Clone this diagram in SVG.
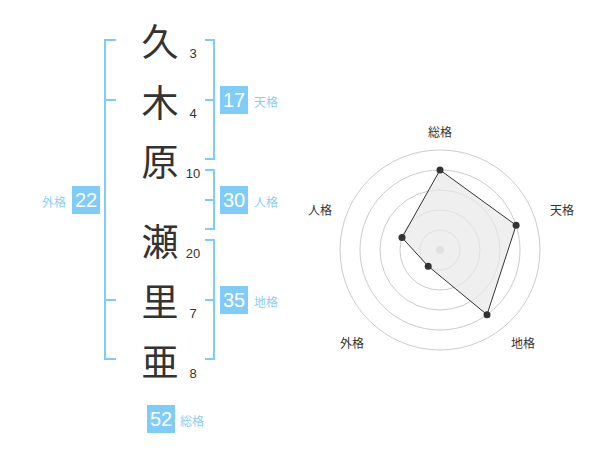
<svg xmlns="http://www.w3.org/2000/svg" width="600" height="470" viewBox="0 0 600 470">
<style>
.k{font-family:"Noto Sans CJK JP","Noto Sans",sans-serif;font-size:37px;fill:#333;text-anchor:middle;dominant-baseline:central}
.n{font-family:"Liberation Sans",Arial,sans-serif;font-size:13px;fill:#333;text-anchor:middle;dominant-baseline:central}
.br{fill:none;stroke:#80ccf8;stroke-width:2}
.bx{fill:#80ccf8}
.bt{font-family:"Liberation Sans",Arial,sans-serif;font-size:20px;fill:#fff;text-anchor:middle;dominant-baseline:central}
.bl{font-family:"Noto Sans CJK JP",sans-serif;font-size:12px;fill:#88cff7;dominant-baseline:central}
.ring{fill:none;stroke:#ccc;stroke-width:1}
.rl{font-family:"Noto Sans CJK JP",sans-serif;font-size:12px;fill:#333;text-anchor:middle;dominant-baseline:central}
</style>
<rect width="600" height="470" fill="#fff"/>
<g id="chars">
<g id="c1"><text class="k" x="160" y="40">久</text><text class="n" x="193" y="53">3</text></g>
<g id="c2"><text class="k" x="160" y="101">木</text><text class="n" x="193" y="113">4</text></g>
<g id="c3"><text class="k" x="160" y="160">原</text><text class="n" x="193" y="173">10</text></g>
<g id="c4"><text class="k" x="160" y="240">瀬</text><text class="n" x="193" y="253">20</text></g>
<g id="c5"><text class="k" x="160" y="300">里</text><text class="n" x="193" y="313">7</text></g>
<g id="c6"><text class="k" x="160" y="360">亜</text><text class="n" x="193" y="373">8</text></g>
</g>
<g id="connectors">
<path class="br" d="M116,40H105V359H116M105,100H116M105,300H116"/>
<path class="br" d="M205,40H214V159H205M214,100H205"/>
<path class="br" d="M205,170H214V229H205M214,200H205"/>
<path class="br" d="M205,240H214V359H205M214,300H205"/>
</g>
<g id="tenkaku"><rect class="bx" x="220" y="86" width="28" height="28"/><text class="bt" x="234" y="100">17</text><text class="bl" x="254" y="101">天格</text></g>
<g id="jinkaku"><rect class="bx" x="220" y="186" width="28" height="28"/><text class="bt" x="234" y="200">30</text><text class="bl" x="254" y="201">人格</text></g>
<g id="chikaku"><rect class="bx" x="220" y="286" width="28" height="28"/><text class="bt" x="234" y="300">35</text><text class="bl" x="254" y="301">地格</text></g>
<g id="gaikaku"><rect class="bx" x="72" y="186" width="28" height="28"/><text class="bt" x="86" y="200">22</text><text class="bl" x="66" y="201" text-anchor="end">外格</text></g>
<g id="soukaku"><rect class="bx" x="147" y="405" width="28" height="28"/><text class="bt" x="161" y="419">52</text><text class="bl" x="180" y="420">総格</text></g>
<g id="radar">
<circle class="ring" cx="440" cy="250" r="20"/>
<circle class="ring" cx="440" cy="250" r="40"/>
<circle class="ring" cx="440" cy="250" r="60"/>
<circle class="ring" cx="440" cy="250" r="80"/>
<circle class="ring" cx="440" cy="250" r="100"/>
<circle cx="440" cy="250" r="4" fill="#ccc"/>
<polygon points="440,170 516.1,225.3 487,314.7 428.2,266.2 402,237.6" fill="#e8e8e8" fill-opacity="0.7" stroke="#333" stroke-width="1"/>
<g fill="#333">
<circle cx="440" cy="170" r="3.5"/>
<circle cx="516.1" cy="225.3" r="3.5"/>
<circle cx="487" cy="314.7" r="3.5"/>
<circle cx="428.2" cy="266.2" r="3.5"/>
<circle cx="402" cy="237.6" r="3.5"/>
</g>
<text class="rl" x="440" y="131">総格</text>
<text class="rl" x="562" y="209">天格</text>
<text class="rl" x="523" y="342">地格</text>
<text class="rl" x="352" y="342">外格</text>
<text class="rl" x="320" y="209">人格</text>
</g>
</svg>
